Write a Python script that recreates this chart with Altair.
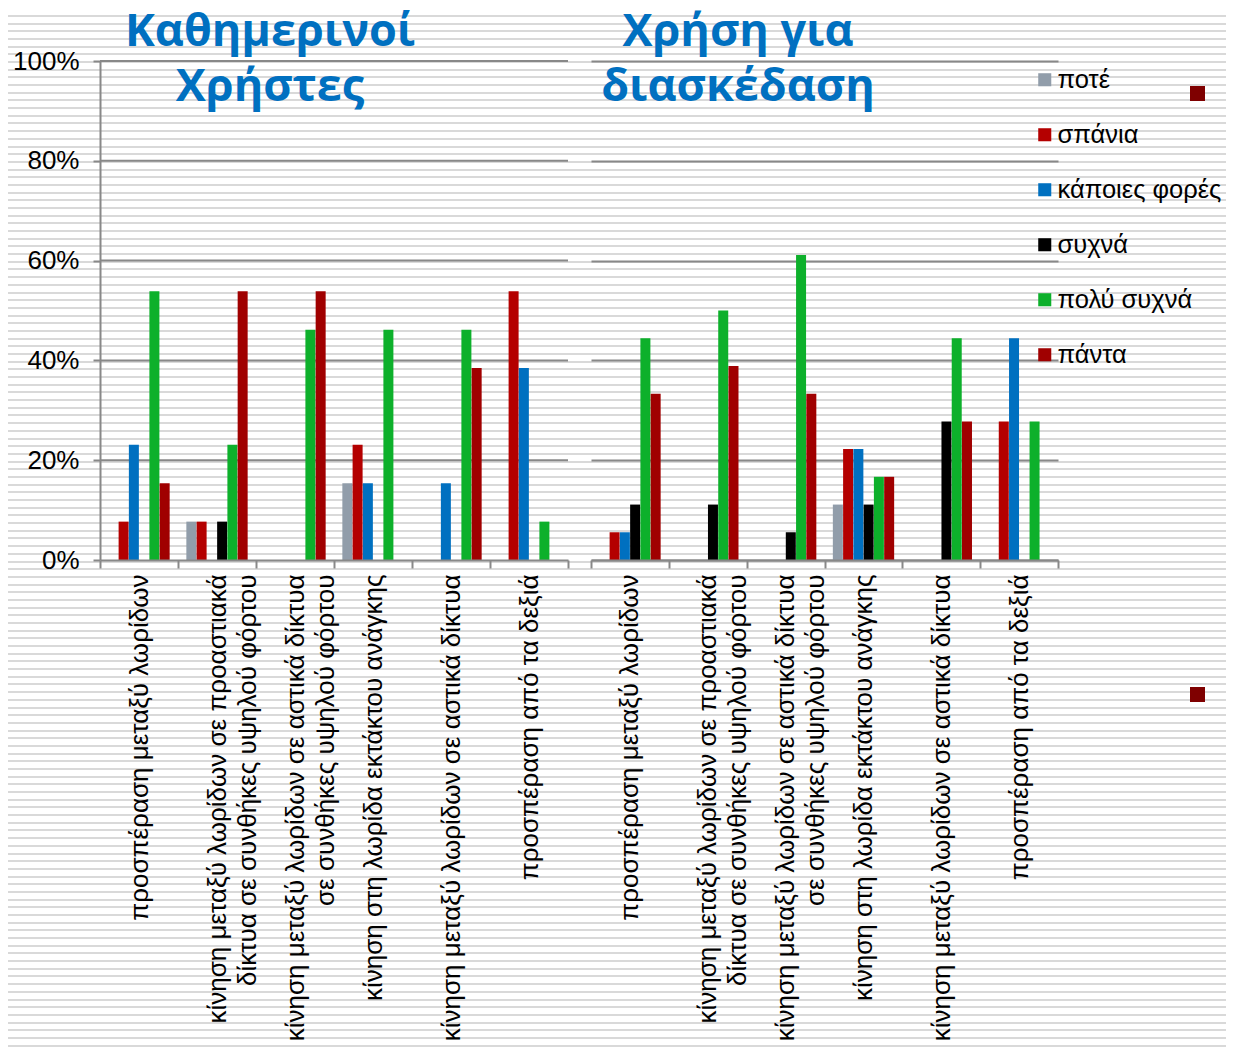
import altair as alt
import pandas as pd

series = ["ποτέ", "σπάνια", "κάποιες φορές", "συχνά", "πολύ συχνά", "πάντα"]
colors = ["#919DAA", "#B40000", "#0070C0", "#000000", "#0DB02B", "#A00000"]

categories = [
    "προσπέραση μεταξύ λωρίδων",
    "κίνηση μεταξύ λωρίδων σε προαστιακά|δίκτυα σε συνθήκες υψηλού φόρτου",
    "κίνηση μεταξύ λωρίδων σε αστικά δίκτυα|σε συνθήκες υψηλού φόρτου",
    "κίνηση στη λωρίδα εκτάκτου ανάγκης",
    "κίνηση μεταξύ λωρίδων σε αστικά δίκτυα",
    "προσπέραση από τα δεξιά",
]
# trailing no-break spaces to centre the shorter second line
line2_pad = [0, 3, 10, 0, 0, 0]

y_ticks = [0, 0.2, 0.4, 0.6, 0.8, 1.0]

title_left = ["Καθημερινοί", "Χρήστες"]
title_right = ["Χρήση για", "διασκέδαση"]

# Καθημερινοί Χρήστες (%)
daily_pote = [0, 7.69, 0, 15.38, 0, 0]
daily_spania = [7.69, 7.69, 0, 23.08, 0, 53.85]
daily_kapoies = [23.08, 0, 0, 15.38, 15.38, 38.46]
daily_sychna = [0, 7.69, 0, 0, 0, 0]
daily_poly = [53.85, 23.08, 46.15, 46.15, 46.15, 7.69]
daily_panta = [15.38, 53.85, 53.85, 0, 38.46, 0]

# Χρήση για διασκέδαση (%)
fun_pote = [0, 0, 0, 11.11, 0, 0]
fun_spania = [5.56, 0, 0, 22.22, 0, 27.78]
fun_kapoies = [5.56, 0, 0, 22.22, 0, 44.44]
fun_sychna = [11.11, 11.11, 5.56, 11.11, 27.78, 0]
fun_poly = [44.44, 50.0, 61.11, 16.67, 44.44, 27.78]
fun_panta = [33.33, 38.89, 33.33, 16.67, 27.78, 0]

daily = [daily_pote, daily_spania, daily_kapoies, daily_sychna, daily_poly, daily_panta]
fun = [fun_pote, fun_spania, fun_kapoies, fun_sychna, fun_poly, fun_panta]

labels = []
for c, p in zip(categories, line2_pad):
    if "|" in c:
        a, b = c.split("|")
        labels.append(a + "|" + b + "\u00a0" * p)
    else:
        labels.append(c)


def frame(table):
    rows = []
    for s, vals in zip(series, table):
        for lab, v in zip(labels, vals):
            if v > 0:
                rows.append({"cat": lab, "series": s, "value": v / 100})
    return pd.DataFrame(rows)


color_scale = alt.Scale(domain=series, range=colors)
GRID = "#888888"
W_L, W_R, H = 468, 467, 499
FONT = "Liberation Sans"

# ---- decorative lined-paper background (page pixels, inside the 8px body margin) ----
PAGE_W, PAGE_H = 1234, 1057
PLOT_X0, PLOT_Y0 = 100, 61          # page position of the left plot origin
bg_top, bg_left = 8, 8
bg_right, bg_bottom = PAGE_W - 8, PAGE_H - 8
bg_h = bg_bottom - bg_top
stripe_step, stripe_w = 7.685, 2.0
stops = [alt.GradientStop(offset=0, color="#ffffff")]
k = 1
while True:
    yc = 0.5 + stripe_step * k
    if yc + 1 > bg_bottom:
        break
    if yc - 1 > bg_top:
        s = (yc - stripe_w / 2 - bg_top) / bg_h
        e = (yc + stripe_w / 2 - bg_top) / bg_h
        stops += [
            alt.GradientStop(offset=s, color="#ffffff"),
            alt.GradientStop(offset=s, color="#d9d9d9"),
            alt.GradientStop(offset=e, color="#d9d9d9"),
            alt.GradientStop(offset=e, color="#ffffff"),
        ]
    k += 1
stops.append(alt.GradientStop(offset=1, color="#ffffff"))
stripes = alt.LinearGradient(gradient="linear", stops=stops, x1=0, x2=0, y1=0, y2=1)

one = alt.Data(values=[{}])
background = (
    alt.Chart(one)
    .mark_rect(fill=stripes, strokeWidth=0)
    .encode(
        x=alt.value(bg_left - PLOT_X0), x2=alt.value(bg_right - PLOT_X0),
        y=alt.value(bg_top - PLOT_Y0), y2=alt.value(bg_bottom - PLOT_Y0),
    )
)

# two stray dark-red squares at the right edge of the slide (page pixels)
marker_pos = [(1197.5, 93.5), (1197.5, 694.5)]
markers = [
    alt.Chart(one)
    .mark_square(size=225, color="#7F0000", opacity=1)
    .encode(x=alt.value(px - PLOT_X0), y=alt.value(py - PLOT_Y0))
    for px, py in marker_pos
]


def heading(lines, cx):
    # blue two-line panel heading, placed inside the top of the panel
    return (
        alt.Chart(one)
        .mark_text(
            text=lines, font="Open Sans", fontSize=45, fontWeight="bold",
            color="#0070C0", align="center", baseline="alphabetic", lineHeight=55,
        )
        .encode(x=alt.value(cx), y=alt.value(46 - PLOT_Y0))
    )


def bars(df, show_y):
    y_axis = alt.Axis(
        values=y_ticks, format=".0%", title=None,
        labels=show_y, ticks=show_y, domain=show_y, grid=not show_y,
        gridColor=GRID, gridWidth=2, domainColor=GRID, domainWidth=2,
        tickColor=GRID, tickWidth=2, tickSize=7, labelPadding=14,
        labelFontSize=26, labelFont=FONT, labelColor="#000000",
        zindex=1 if show_y else 0,
    )
    x_axis = alt.Axis(
        title=None, labelAngle=-90, labelFontSize=26, labelFont=FONT,
        labelColor="#000000", labelLimit=0, labelLineHeight=30,
        labelExpr="split(datum.label, '|')", tickBand="extent", tickSize=8,
        tickColor=GRID, tickWidth=2, domainColor=GRID, domainWidth=2,
        labelPadding=6, grid=False, zindex=1,
    )
    return (
        alt.Chart(df)
        .mark_bar(size=10)
        .encode(
            x=alt.X("cat:N", sort=labels, scale=alt.Scale(domain=labels, paddingInner=0, paddingOuter=0), axis=x_axis),
            xOffset=alt.XOffset("series:N", sort=series, scale=alt.Scale(domain=series, paddingOuter=0.8, paddingInner=0)),
            y=alt.Y("value:Q", scale=alt.Scale(domain=[0, 1]), axis=y_axis),
            color=alt.Color(
                "series:N", scale=color_scale, sort=series, title=None,
                legend=alt.Legend(orient="none", legendX=932, legendY=6),
            ),
        )
    )


# grid lines of the left panel, drawn above the lined background but under the bars
grid_left = (
    alt.Chart(pd.DataFrame({"g": y_ticks[1:]}))
    .mark_rule(color=GRID, strokeWidth=2)
    .encode(y=alt.Y("g:Q", scale=alt.Scale(domain=[0, 1])))
)

left = alt.layer(
    background, *markers, grid_left, bars(frame(daily), True), heading(title_left, 170)
).properties(width=W_L, height=H)
right = alt.layer(bars(frame(fun), False), heading(title_right, 147)).properties(width=W_R, height=H)

chart = (
    alt.hconcat(left, right, spacing=23, bounds="flush")
    .configure_view(stroke=None)
    .configure_legend(
        labelFontSize=25.5, labelFont=FONT, labelLimit=0,
        labelColor="#000000", symbolType="square", symbolSize=170, symbolStrokeWidth=0,
        labelOffset=0, rowPadding=28, padding=0,
    )
    .properties(padding=0)
)

chart.save("out.html", embed_options={"renderer": "svg", "actions": False})
